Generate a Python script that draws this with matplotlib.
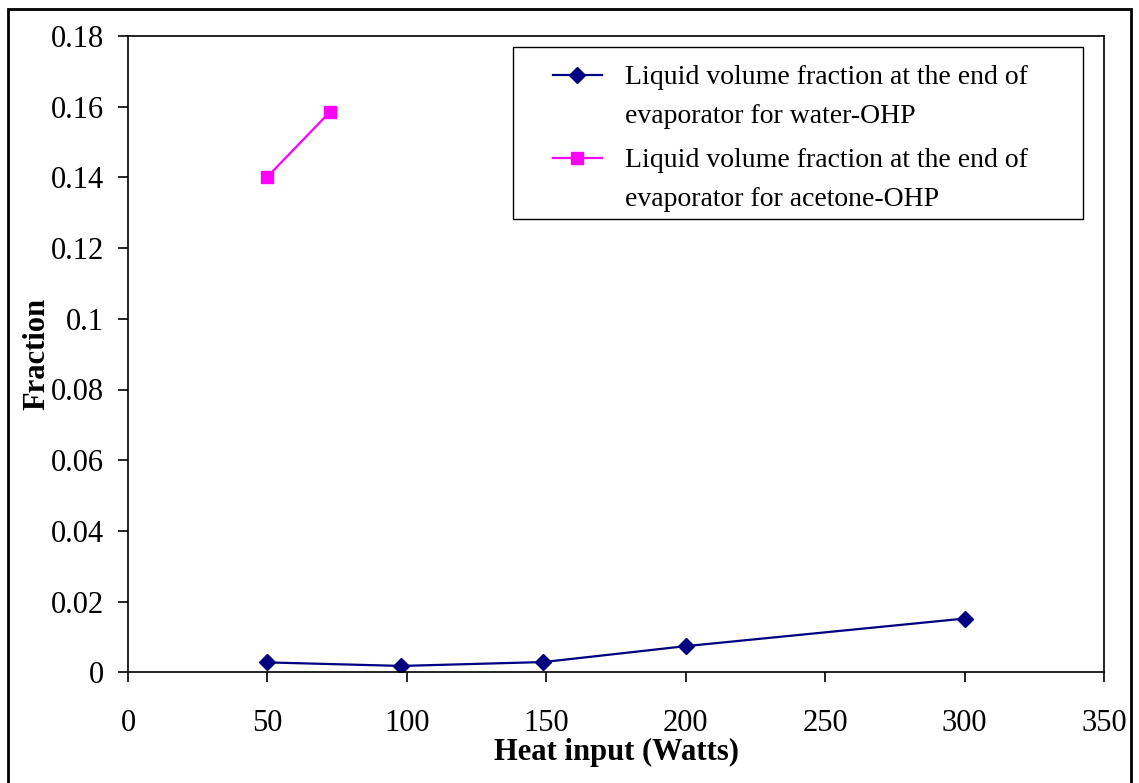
import matplotlib
matplotlib.use("Agg")
import numpy as np
import matplotlib.pyplot as plt
from matplotlib.patches import Rectangle
from matplotlib.legend_handler import HandlerLine2D

# Heat input (W) and liquid volume fraction at the evaporator end
water_heat = [50, 98, 149, 200, 300]
water_frac = [0.0028, 0.0018, 0.0029, 0.0074, 0.0152]
acetone_heat = [50, 72.5]
acetone_frac = [0.1402, 0.1586]

water_label = "Liquid volume fraction at the end of\nevaporator for water-OHP"
acetone_label = "Liquid volume fraction at the end of\nevaporator for acetone-OHP"
x_ticks = [0, 50, 100, 150, 200, 250, 300, 350]
y_ticks = [0, 0.02, 0.04, 0.06, 0.08, 0.1, 0.12, 0.14, 0.16, 0.18]
y_tick_labels = ["0", "0.02", "0.04", "0.06", "0.08", "0.1", "0.12", "0.14", "0.16", "0.18"]

plt.rcParams["font.family"] = ["Liberation Serif", "DejaVu Serif"]


class FirstLineHandler(HandlerLine2D):
    """Line handle raised so that it sits beside the first text line."""

    def __init__(self, raise_by, **kw):
        super().__init__(**kw)
        self.raise_by = raise_by

    def create_artists(self, legend, orig_handle, xdescent, ydescent,
                       width, height, fontsize, trans):
        artists = super().create_artists(legend, orig_handle, xdescent, ydescent,
                                         width, height, fontsize, trans)
        for a in artists:
            a.set_ydata(np.asarray(a.get_ydata(), dtype=float) + self.raise_by)
        return artists


W, H = 1139, 783
fig = plt.figure(figsize=(W / 100, H / 100), dpi=100)
ax = fig.add_axes([128 / W, 1 - 672.3 / H, (1104 - 128) / W, (672.3 - 36) / H])

water_line, = ax.plot(water_heat, water_frac, color="#000080", marker="D",
                      markersize=8, linewidth=1.6, label=water_label)
acetone_line, = ax.plot(acetone_heat, acetone_frac, color="#FF00FF", marker="s",
                        markersize=8, linewidth=1.6, label=acetone_label)

ax.set_xlim(0, 350)
ax.set_ylim(0, 0.18)
ax.set_xticks(x_ticks)
ax.set_yticks(y_ticks)
ax.set_yticklabels(y_tick_labels)
ax.tick_params(axis="both", direction="out", length=7.5, width=1.2,
               labelsize=22, colors="black")
ax.tick_params(axis="x", pad=19)
ax.tick_params(axis="y", pad=10)
for s in ax.spines.values():
    s.set_linewidth(1.2)
    s.set_color("black")

ax.set_xlabel("Heat input (Watts)", fontsize=22, fontweight="bold", labelpad=0)
ax.set_ylabel("Fraction", fontsize=22, fontweight="bold", labelpad=-1)

handler = FirstLineHandler(16.0)
leg = ax.legend(loc="upper left", bbox_to_anchor=(553 / W, 1 - 65 / H),
                bbox_transform=fig.transFigure, fontsize=20, frameon=False,
                handlelength=1.75, handletextpad=0.85, labelspacing=0.68,
                borderpad=0, borderaxespad=0,
                handler_map={water_line: handler, acetone_line: handler})
for t in leg.get_texts():
    t.set_linespacing(1.75)

# legend frame
fig.patches.append(Rectangle((513 / W, 1 - 219 / H), (1083 - 513) / W, (219 - 47) / H,
                             transform=fig.transFigure, fill=False,
                             edgecolor="black", linewidth=1.0))

# outer chart border
fig.patches.append(Rectangle((8 / W, -0.05), (1131 - 8) / W, 1 - 9 / H + 0.05,
                             transform=fig.transFigure, fill=False,
                             edgecolor="black", linewidth=2))

fig.savefig("out.png", dpi=100)
